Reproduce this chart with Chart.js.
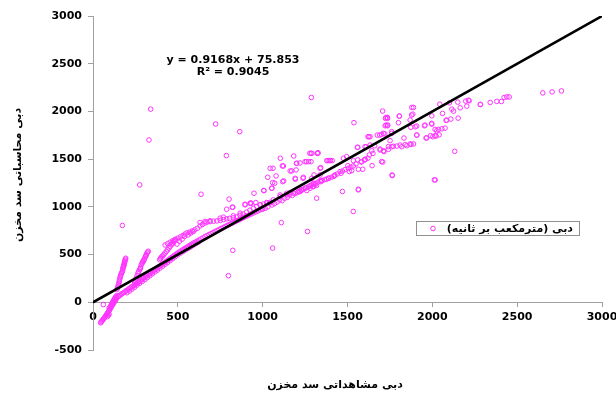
<!DOCTYPE html>
<html>
<head>
<meta charset="utf-8">
<script src="https://cdn.jsdelivr.net/npm/chart.js@4.4.0/dist/chart.umd.min.js"></script>
<style>
    html, body { margin: 0; padding: 0; background: #fff; }
</style>
</head>
<body>
<canvas id="flowChart" width="616" height="394"></canvas>
<script>
// observed (x) vs simulated (y) discharge, m3/s
const flowPoints = [
    // start of the curve, below zero
    [45,-215],[48,-205],[52,-198],[56,-188],[60,-180],[64,-170],[68,-160],[72,-150],[76,-140],[80,-128],
    [84,-118],[88,-106],[92,-95],[96,-84],[100,-72],[104,-60],[108,-48],[112,-36],[116,-24],[120,-12],
    [124,0],[128,12],[132,22],[136,34],[61,-24],[95,-60],[102,-45],[107,-30],[111,-15],[115,0],
    [119,12],[123,25],[127,36],[131,48],[135,58],[140,70],[85,-150],[90,-140],[95,-125],
    // steep streak 1
    [141,133],[145,150],[147,167],[150,185],[153,202],[155,220],[157,237],[159,255],[161,272],[164,286],
    [167,300],[170,312],[173,324],[175,340],[177,359],[180,375],[183,394],[185,410],[187,429],[189,440],
    [191,453],[193,462],[178,365],[182,385],[186,418],
    // steep streak 2
    [246,202],[250,225],[255,254],[260,280],[265,307],[270,325],[275,342],[280,368],[285,394],[290,410],
    [295,429],[300,446],[305,463],[310,480],[314,498],[318,515],[322,525],[326,535],[280,355],[292,420],
    [300,440],[312,490],
    // steep streak 3
    [393,446],[398,460],[403,474],[410,486],[417,498],[424,515],[432,533],[440,550],[448,568],[455,585],
    [462,603],[467,612],[472,620],[477,635],[481,648],[485,655],
    // main band
    [140,45],[150,60],[158,72],[165,82],[172,92],[180,100],[188,110],[195,120],[202,128],[210,138],
    [218,148],[225,158],[232,166],[240,175],[248,185],[255,195],[262,205],[270,215],[278,226],[285,236],
    [292,246],[300,255],[308,266],[316,276],[324,287],[332,298],[340,308],[348,318],[356,330],[364,340],
    [372,350],[380,362],[388,372],[396,382],[404,393],[412,403],[420,413],[428,424],[436,434],[444,444],
    [452,455],[460,465],[468,475],[476,486],[484,496],[492,506],[500,516],[510,528],[520,540],[530,552],
    [540,562],[550,573],[560,585],[570,596],[580,607],[590,618],[600,628],[612,640],[624,652],[636,664],
    [648,676],[660,688],[672,699],[684,710],[696,720],[708,731],[720,742],[732,752],[744,763],[756,773],
    [768,784],[780,795],[792,806],[804,816],[816,826],[828,837],[840,848],[852,858],[864,868],[876,878],
    [888,889],[900,899],[912,908],[924,918],[936,928],[948,938],[960,948],[972,958],[984,968],[996,977],
    [200,100],[215,118],[230,138],[245,158],[260,180],[275,200],[290,218],[305,238],[320,258],[335,278],
    [350,298],[365,318],[380,338],[395,358],[410,378],[425,398],[440,418],[455,438],[470,458],[485,478],
    [500,498],[515,515],[530,532],[545,548],[560,565],[575,580],[590,598],[605,614],[620,630],
    // upper band
    [425,600],[440,615],[455,630],[470,645],[485,660],[500,672],[515,685],[530,700],[542,715],[555,728],
    [570,735],[585,748],[600,760],[615,775],[631,800],[645,815],[660,830],[672,840],[690,845],[710,850],
    [730,852],[750,858],[770,866],[788,875],[805,880],[827,885],[845,895],[867,912],[885,925],[905,945],
    [925,965],[945,985],[965,1005],[985,1022],[1005,1030],[1025,1040],[1045,1048],
    [495,610],[510,640],[525,660],[540,690],[560,705],[575,725],[590,740],
    [631,836],[660,847],[690,854],[749,881],[769,892],[827,906],[867,934],[896,1021],[926,1038],[985,1021],
    [1024,1045],[1063,1073],[1103,1108],[1142,1125],[1181,1143],[1220,1160],[1260,1171],[1299,1247],
    // 1000 - 1600
    [1000,975],[1015,985],[1030,1000],[1041,1039],[1055,1020],[1070,1035],[1085,1050],[1100,1074],[1115,1065],[1130,1090],
    [1145,1100],[1159,1126],[1175,1120],[1190,1140],[1205,1150],[1220,1165],[1228,1178],[1240,1185],[1255,1200],[1270,1210],
    [1285,1225],[1297,1237],[1310,1245],[1325,1258],[1338,1272],[1350,1275],[1365,1285],[1376,1290],[1390,1300],[1405,1310],
    [1420,1320],[1426,1335],[1440,1345],[1456,1370],[1470,1375],[1485,1390],[1505,1404],[1520,1415],[1534,1429],[1550,1450],
    [1564,1394],[1584,1474],[1511,1370],[1600,1490],[1620,1510],
    [1008,1171],[1053,1195],[1059,1254],[1118,1265],[1122,1428],[1044,1404],[1061,1404],[1116,1429],[1030,1310],[1079,1324],
    [1162,1376],[1197,1387],[1201,1456],[1220,1460],[1250,1474],[1270,1474],[1191,1299],[1240,1310],[1289,1299],[1338,1334],
    [1071,1248],[1124,1272],[1193,1290],[1238,1300],[1297,1213],[1346,1276],[1171,1377],[1183,1533],[1199,1457],[1258,1474],
    [1278,1561],[1290,1561],[1326,1568],[1342,1411],[1385,1485],[1400,1485],[1104,1509],[1006,1171],[1055,1196],[1103,1125],
    [1142,1143],[1162,1150],[1211,1160],[1230,1175],[1250,1195],[1280,1195],[1309,1230],[949,1143],[932,1038],[896,1028],
    [929,1039],[960,1045],
    // 1300 - 2050
    [1285,1561],[1322,1561],[1285,1474],[1338,1404],[1393,1485],[1410,1485],[1476,1509],[1495,1526],[1538,1882],[1558,1624],
    [1603,1631],[1633,1648],[1660,1640],[1692,1596],[1715,1579],[1741,1631],[1770,1635],[1810,1648],[1840,1652],[1869,1659],
    [1889,1659],[1629,1544],[1650,1560],[1701,1474],[1560,1492],[1603,1498],[1580,1470],[1590,1394],[1525,1380],[1470,1161],
    [1564,1178],[1318,1091],[1534,952],[1764,1328],[2012,1283],[1299,1213],[1318,1225],[1279,1220],
    [1707,2004],[1727,1937],[1735,1937],[1806,1951],[1869,1910],[1878,1962],[1800,1882],[1727,1857],[1737,1857],[1908,1847],
    [1957,1857],[1996,1875],[2036,1812],[2016,1812],[1621,1735],[1633,1735],[1701,1760],[1720,1765],[1760,1788],[1751,1694],
    [1833,1721],[1908,1753],[1963,1721],[1990,1746],[2016,1746],[1879,2042],[1889,2042],
    [1561,1624],[1610,1630],[1643,1588],[1692,1606],[1712,1588],[1741,1603],[1761,1630],[1791,1637],[1820,1630],[1850,1641],
    [1875,1655],[1708,1470],[1645,1432],[1763,1334],[2017,1282],[1564,1185],
    [1343,1264],[1387,1300],[1423,1327],[1462,1352],[1502,1432],[1535,1484],[1604,1498],[1325,1561],[1378,1484],[1303,1334],
    // 2000 and up
    [2651,2194],[2706,2205],[2761,2215],[2439,2152],[2453,2152],[2423,2146],[2407,2104],[2380,2105],[2341,2094],[2284,2073],
    [2217,2111],[2197,2108],[2203,2055],[2164,2038],[2150,2097],[2101,2090],[2044,2076],[2115,2024],[2125,2003],[2060,1979],
    [1997,1954],[2152,1930],[2109,1920],[2085,1909],[2081,1906],[1997,1867],[2075,1825],[2056,1818],[2026,1797],[2040,1755],
    [2003,1735],[2022,1742],[1967,1724],[1909,1752],[1873,1833],[1899,1839],[1954,1850],[2132,1582],[2213,2118],[2282,2073],
    [1885,1972],[1805,1951],[1724,1927],[1736,1927],[1722,1850],[1736,1850],[1626,1735],[1676,1752],[1690,1752],[1712,1770],
    [1761,1770],[1287,2146],
    // outliers
    [340,2024],[330,1701],[723,1868],[865,1788],[786,1537],[275,1230],[173,805],[637,1132],[802,1081],[824,996],
    [788,975],[821,997],[824,544],[1059,568],[798,279],[1110,835],[1264,742]
];

const fitLineX = [0, 3000];
const fitLineY = [0, 3000];

const equationLines = ["y = 0.9168x + 75.853", "R² = 0.9045"];
const seriesName = "دبی (مترمکعب بر ثانیه)";
const xTitle = "دبی مشاهداتی سد مخزن";
const yTitle = "دبی محاسباتی سد مخزن";

const xMin = 0, xMax = 3000, xStep = 500;
const yMin = -500, yMax = 3000, yStep = 500;

const pointColor = "#ff33ff";
const axisColor = "#a0a0a0";
const tickFont = { family: "DejaVu Sans", size: 11, weight: "bold" };

// متن‌ها: معادله، راهنما و عنوان محورها
const textPlugin = {
    id: "texts",
    afterDraw(chart) {
        const ctx = chart.ctx;
        ctx.save();
        ctx.fillStyle = "#000";
        ctx.textBaseline = "middle";

        ctx.font = 'bold 11px "DejaVu Sans"';
        ctx.textAlign = "center";
        ctx.fillText(equationLines[0], 233, 60);
        ctx.fillText(equationLines[1], 233, 72);

        // legend box
        ctx.strokeStyle = "#909090";
        ctx.lineWidth = 1;
        ctx.fillStyle = "#fff";
        ctx.fillRect(416.5, 221.5, 163, 14);
        ctx.strokeRect(416.5, 221.5, 163, 14);
        ctx.strokeStyle = pointColor;
        ctx.beginPath();
        ctx.arc(433, 228.5, 2.3, 0, Math.PI * 2);
        ctx.stroke();
        ctx.fillStyle = "#000";
        ctx.font = 'bold 11px "DejaVu Sans"';
        ctx.direction = "rtl";
        ctx.textAlign = "right";
        ctx.fillText(seriesName, 573, 229);

        // axis titles
        ctx.font = 'bold 11px "DejaVu Sans"';
        ctx.textAlign = "center";
        ctx.fillText(xTitle, 335, 385);
        ctx.translate(18, 175);
        ctx.rotate(-Math.PI / 2);
        ctx.fillText(yTitle, 0, 0);
        ctx.restore();
    }
};

const ctx = document.getElementById("flowChart").getContext("2d");
const flowChart = new Chart(ctx, {
    type: "scatter",
    data: {
        datasets: [
            {
                label: "fit",
                data: fitLineX.map((x, i) => ({ x: x, y: fitLineY[i] })),
                showLine: true,
                borderColor: "#000",
                borderWidth: 2.5,
                pointRadius: 0,
                order: 0,
            },
            {
                label: seriesName,
                data: flowPoints.map((p) => ({ x: p[0], y: p[1] })),
                pointStyle: "circle",
                pointRadius: 2.3,
                borderWidth: 1,
                borderColor: pointColor,
                backgroundColor: "rgba(0,0,0,0)",
                order: 1,
            },
        ],
    },
    options: {
        responsive: false,
        animation: false,
        layout: { padding: { left: 8, top: 16, right: 14, bottom: 44 } },
        plugins: {
            legend: { display: false },
            tooltip: { enabled: false },
        },
        scales: {
            x: {
                type: "linear",
                position: { y: 0 },
                min: xMin,
                max: xMax,
                ticks: { stepSize: xStep, font: tickFont, color: "#000", padding: 4, callback: (v) => String(v) },
                grid: { drawOnChartArea: false, drawTicks: true, tickLength: 4, tickColor: axisColor },
                border: { color: axisColor, width: 1 },
                afterFit(s) {
                    s.paddingLeft = 0;
                    s.paddingRight = 0;
                },
            },
            y: {
                type: "linear",
                min: yMin,
                max: yMax,
                ticks: { stepSize: yStep, font: tickFont, color: "#000", padding: 6, callback: (v) => String(v) },
                grid: { drawOnChartArea: false, drawTicks: true, tickLength: 5, tickColor: axisColor },
                border: { color: axisColor, width: 1 },
                afterFit(s) {
                    s.width = 85;
                },
            },
        },
    },
    plugins: [textPlugin],
});
</script>
</body>
</html>
